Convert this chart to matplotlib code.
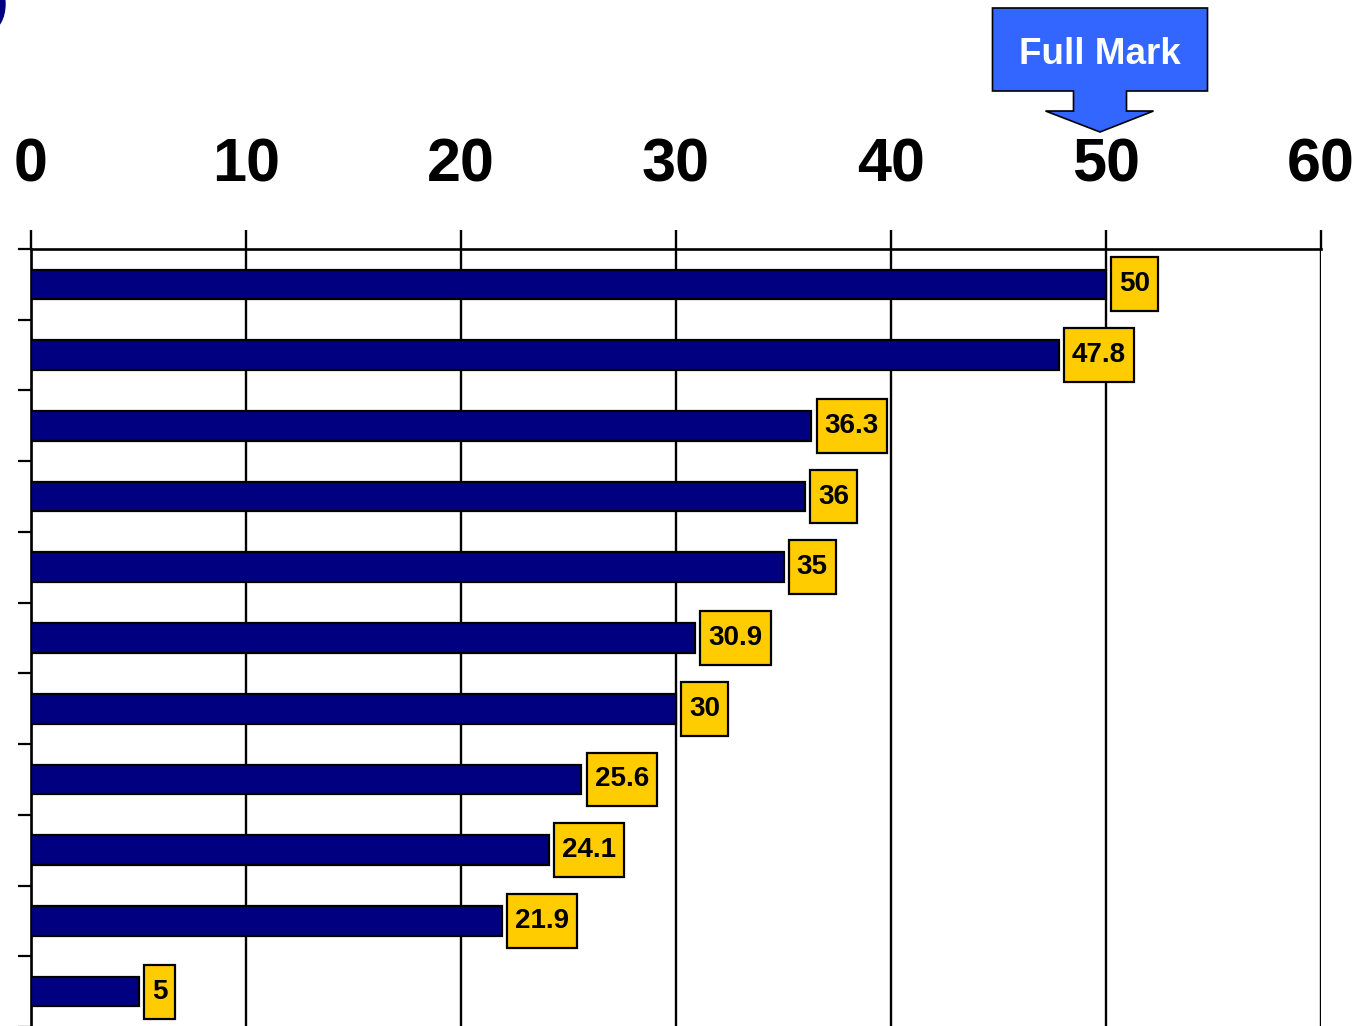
import numpy as np
import matplotlib
matplotlib.use("Agg")
import matplotlib.pyplot as plt
from matplotlib.path import Path
from matplotlib.patches import Polygon, Ellipse

plt.rcParams['font.family'] = ['Liberation Sans', 'DejaVu Sans']

# 数据
scores = [50, 47.8, 36.3, 36, 35, 30.9, 30, 25.6, 24.1, 21.9, 5]
xticks = [0, 10, 20, 30, 40, 50, 60]
full_mark = 50

W, H = 1369, 1026
fig = plt.figure(figsize=(W / 100, H / 100), dpi=100)
fig.patch.set_facecolor('white')

# 左上角的小块深蓝色
fig.patches.append(Ellipse((-10 / W, 1 - 4 / H), 30 / W, 52 / H,
                           transform=fig.transFigure, color='#000080', zorder=0))

ax = fig.add_axes([31 / W, -1 / H, 1290 / W, 778 / H])
ax.patch.set_alpha(0)

y = np.arange(len(scores))
ax.barh(y, scores, height=0.42, color='#000080', edgecolor='black', linewidth=1.6, zorder=3)

ax.set_xlim(0, 60)
ax.set_ylim(len(scores) - 0.5, -0.5)
ax.xaxis.tick_top()
ax.set_xticks(xticks)
ax.set_xticklabels([str(t) for t in xticks], fontsize=44, fontweight='bold')
ax.tick_params(axis='x', direction='out', length=14, width=1.7, pad=25, color='black')
ax.set_yticks(np.arange(len(scores) + 1) - 0.5)
ax.set_yticklabels([])
ax.tick_params(axis='y', direction='out', length=9.5, width=1.6)
ax.grid(axis='x', color='black', linewidth=1.7, zorder=1)
ax.set_axisbelow(True)
for s in ['right', 'bottom']:
    ax.spines[s].set_visible(False)
for s in ['top', 'left']:
    ax.spines[s].set_linewidth(1.9)


def tall_box(x0, y0, width, height, mutation_size):
    px = 0.29 * mutation_size
    py = 0.5 * mutation_size
    x0, y0 = x0 - px, y0 - py
    x1, y1 = x0 + width + 2 * px, y0 + height + 2 * py
    return Path([(x0, y0), (x1, y0), (x1, y1), (x0, y1), (x0, y0)],
                [Path.MOVETO, Path.LINETO, Path.LINETO, Path.LINETO, Path.CLOSEPOLY])


for i, v in enumerate(scores):
    ax.annotate(f'{v:g}', xy=(v, i), xytext=(9.5, 0), textcoords='offset points',
                ha='left', va='center', fontsize=20, fontweight='bold', zorder=5,
                annotation_clip=False,
                bbox=dict(boxstyle=tall_box, facecolor='#FFCC00', edgecolor='black', linewidth=1.6))

# Full Mark 标注箭头
cx = ax.transData.transform((full_mark, 0))[0] - 6
pts = [(-107.5, 8), (107.5, 8), (107.5, 91), (26.5, 91), (26.5, 111), (53.5, 111),
       (0, 132), (-54.5, 111), (-26.5, 111), (-26.5, 91), (-107.5, 91)]
fig.patches.append(Polygon([((cx + dx) / W, 1 - yy / H) for dx, yy in pts], closed=True,
                           transform=fig.transFigure, facecolor='#3366FF',
                           edgecolor='black', linewidth=1.2, zorder=4))
fig.text(cx / W, 1 - 55 / H, 'Full Mark', color='white', fontsize=26.5, fontweight='bold',
         ha='center', va='center', zorder=5)

fig.savefig('out.png', dpi=100)
